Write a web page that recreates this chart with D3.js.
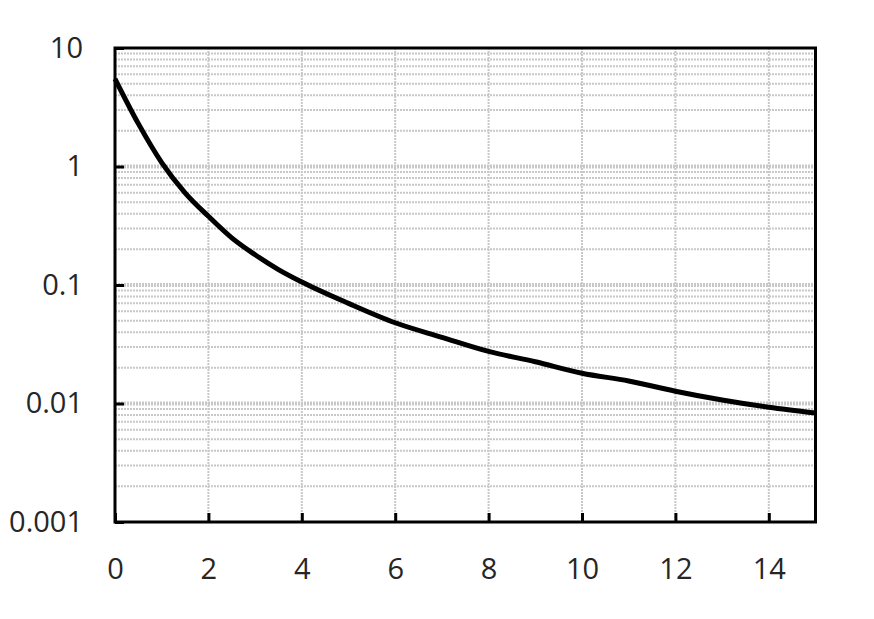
<!DOCTYPE html>
<html><head><meta charset="utf-8">
<script src="https://cdn.jsdelivr.net/npm/d3@7"></script>
<style>body{margin:0;background:#fff}svg{display:block}</style>
</head><body>
<svg id="c" width="874" height="619"></svg>
<script>
const xValues = [0, 0.5, 1, 1.5, 2, 2.5, 3, 3.5, 4, 5, 6, 7, 8, 9, 10, 11, 12, 13, 14, 15];
const yValues = [5.5, 2.3, 1.08, 0.60, 0.38, 0.25, 0.18, 0.135, 0.106, 0.070, 0.048, 0.0362, 0.0275, 0.0225, 0.018, 0.0155, 0.0127, 0.0107, 0.0093, 0.0083];
const xTicks = [0, 2, 4, 6, 8, 10, 12, 14];
const yTicks = [0.001, 0.01, 0.1, 1, 10];
const yTickLabels = ["0.001", "0.01", "0.1", "1", "10"];

const svg = d3.select("#c");
const L = 115, R = 815.5, T = 48, B = 522;
const x = d3.scaleLinear().domain([0, 15]).range([L, R]);
const y = d3.scaleLog().domain([0.001, 10]).range([B, T]);

// minor gridlines
const minor = [];
for (let d = -3; d < 1; d++) for (let m = 2; m <= 9; m++) minor.push(m * Math.pow(10, d));
const g = svg.append("g");
g.selectAll("line.minor").data(minor).enter().append("line")
  .attr("x1", L).attr("x2", R).attr("y1", d => y(d)).attr("y2", d => y(d))
  .attr("stroke", "#c8c8c8").attr("stroke-width", 2).attr("stroke-dasharray", "2,1");
g.selectAll("line.major").data(yTicks.slice(1, 4)).enter().append("line")
  .attr("x1", L).attr("x2", R).attr("y1", d => y(d)).attr("y2", d => y(d))
  .attr("stroke", "#c8c8c8").attr("stroke-width", 4).attr("stroke-dasharray", "2,1");
g.selectAll("line.vx").data(xTicks.slice(1)).enter().append("line")
  .attr("x1", d => x(d)).attr("x2", d => x(d)).attr("y1", T).attr("y2", B)
  .attr("stroke", "#c8c8c8").attr("stroke-width", 2).attr("stroke-dasharray", "2,1");

// curve
const line = d3.line().x((d, i) => x(xValues[i])).y(d => y(d)).curve(d3.curveMonotoneX);
svg.append("path").datum(yValues).attr("d", line)
  .attr("fill", "none").attr("stroke", "#000").attr("stroke-width", 5).attr("stroke-linejoin", "round");

// frame
svg.append("rect").attr("x", L).attr("y", T).attr("width", R - L).attr("height", B - T)
  .attr("fill", "none").attr("stroke", "#000").attr("stroke-width", 3);

// axes
const xAxis = d3.axisBottom(x).tickValues(xTicks).tickSizeInner(-9).tickSizeOuter(0).tickPadding(30).tickFormat(d3.format("d"));
const ax = svg.append("g").attr("transform", `translate(0,${B})`).call(xAxis);
ax.select(".domain").remove();
ax.selectAll(".tick line").attr("stroke", "#000").attr("stroke-width", 3);
ax.selectAll(".tick text").attr("font-family", "Open Sans").attr("font-size", 29).attr("fill", "#262626").attr("dy", "0.71em").attr("y", 36);

const yAxis = d3.axisLeft(y).tickValues(yTicks).tickSizeInner(-9).tickSizeOuter(0).tickPadding(30)
  .tickFormat((d, i) => yTickLabels[i]);
const ay = svg.append("g").attr("transform", `translate(${L},0)`).call(yAxis);
ay.select(".domain").remove();
ay.selectAll(".tick line").attr("stroke", "#000").attr("stroke-width", 3);
ay.selectAll(".tick text").attr("font-family", "Open Sans").attr("font-size", 29).attr("fill", "#262626").attr("x", -32);
</script>
</body></html>
